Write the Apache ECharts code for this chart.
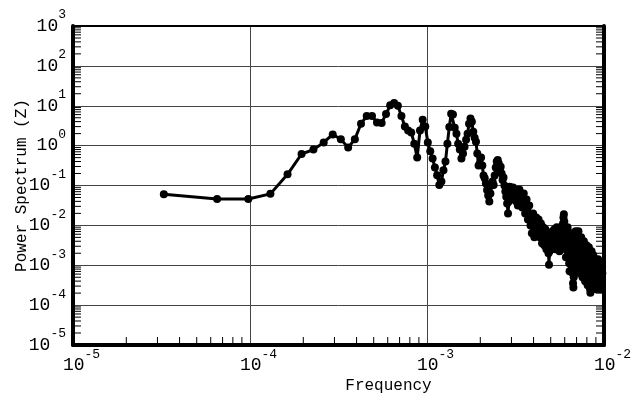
<!DOCTYPE html>
<html>
<head>
<meta charset="utf-8">
<script src="https://cdn.jsdelivr.net/npm/echarts@6/dist/echarts.min.js"></script>
<style>html,body{margin:0;padding:0;background:#fff}#c{width:635px;height:400px}</style>
</head>
<body>
<div id="c"></div>
<script>
// Frequency spacing of the spectrum (point k is at k * freqStep)
const freqStep = 3.26e-5;
// log10 of Power Spectrum (Z), points k = 1 .. 300
const powerLog10 = [
  -1.22,-1.34,-1.34,-1.21,-0.72,-0.21,-0.10,0.08,0.28,0.16,
  -0.05,0.16,0.55,0.74,0.74,0.58,0.57,0.79,1.01,1.07,
  1.00,0.74,0.48,0.38,0.33,0.05,-0.30,0.38,0.65,0.48,
  0.08,-0.14,-0.32,-0.55,-0.74,-0.99,-0.90,-0.62,-0.40,0.05,
  0.47,0.80,0.78,0.45,0.30,0.05,-0.10,-0.32,-0.20,-0.03,
  0.15,0.30,0.55,0.68,0.60,0.35,0.20,0.10,-0.20,-0.50,
  -0.45,-0.30,-0.50,-0.75,-0.82,-0.95,-1.11,-1.25,-1.40,-1.20,
  -1.00,-0.90,-0.99,-0.75,-0.55,-0.40,-0.36,-0.45,-0.60,-0.53,
  -0.70,-0.86,-0.80,-1.00,-1.15,-1.28,-1.45,-1.70,-1.40,-1.03,
  -1.20,-1.11,-1.30,-1.05,-1.20,-1.35,-1.15,-1.40,-1.25,-1.50,
  -1.30,-1.10,-1.25,-1.45,-1.30,-1.55,-1.40,-1.20,-1.50,-1.70,
  -1.55,-1.35,-1.60,-1.85,-1.70,-1.50,-1.75,-2.00,-1.80,-2.20,
  -1.95,-1.70,-1.90,-2.30,-2.05,-1.95,-1.80,-2.05,-2.25,-2.00,
  -1.85,-2.10,-2.30,-2.15,-1.95,-2.20,-2.45,-2.25,-2.05,-2.30,
  -2.50,-2.30,-2.10,-2.35,-2.60,-2.40,-2.20,-2.45,-2.70,-2.99,
  -2.65,-2.40,-2.20,-2.40,-2.60,-2.35,-2.15,-2.40,-2.55,-2.30,
  -2.10,-2.35,-2.60,-2.45,-2.25,-2.05,-2.30,-2.50,-2.35,-2.15,
  -2.40,-2.65,-2.45,-2.25,-2.05,-2.30,-2.50,-2.30,-2.10,-1.95,
  -1.80,-1.72,-1.90,-2.15,-2.40,-2.60,-2.80,-2.55,-2.30,-2.10,
  -2.05,-2.30,-2.55,-2.75,-2.95,-3.15,-2.90,-2.65,-2.40,-2.20,
  -2.45,-2.70,-2.95,-3.20,-3.45,-3.56,-3.30,-3.05,-2.80,-2.55,
  -2.35,-2.15,-2.40,-2.65,-2.90,-3.10,-2.85,-2.60,-2.35,-2.15,
  -2.40,-2.65,-2.95,-3.20,-3.00,-2.75,-2.50,-2.30,-2.55,-2.80,
  -3.05,-3.30,-3.10,-2.85,-2.60,-2.40,-2.65,-2.90,-3.15,-3.40,
  -3.20,-2.95,-2.70,-2.50,-2.75,-3.00,-3.25,-3.50,-3.30,-3.05,
  -2.80,-2.55,-2.80,-3.05,-3.30,-3.60,-3.69,-3.40,-3.15,-2.90,
  -2.65,-2.90,-3.15,-3.40,-3.20,-2.95,-2.75,-3.00,-3.25,-3.50,
  -3.30,-3.05,-2.85,-3.10,-3.35,-3.60,-3.40,-3.15,-2.95,-3.20,
  -3.45,-3.25,-3.00,-2.85,-3.10,-3.35,-3.55,-3.30,-3.05,-2.90,
  -3.15,-3.40,-3.60,-3.35,-3.10,-3.25,-3.50,-3.30,-3.05,-3.20
];
// Axis ranges (decade exponents)
const xDecades = [-5, -4, -3, -2];
const yDecades = [-5, -4, -3, -2, -1, 0, 1, 2, 3];
const xTitle = 'Frequency';
const yTitle = 'Power Spectrum (Z)';

const seriesData = powerLog10.map((e, i) => [(i + 1) * freqStep, Math.pow(10, e)]);

const minorMult = [2, 3, 4, 5, 6, 7, 8, 9];
const xMinor = [];
for (let d = xDecades[0]; d < xDecades[xDecades.length - 1]; d++) minorMult.forEach(m => xMinor.push([m * Math.pow(10, d), 1e-5]));
const yMinor = [];
for (let d = yDecades[0]; d < yDecades[yDecades.length - 1]; d++) minorMult.forEach(m => yMinor.push([1e-5, m * Math.pow(10, d)]));

const mono = 'Liberation Mono';
function powLabel(v) {
  const e = Math.round(Math.log10(v));
  return '{b|10}{e|' + e + '}';
}
const labelRich = {
  b: { fontFamily: mono, fontSize: 18, color: '#000' },
  e: { fontFamily: mono, fontSize: 13, color: '#000', padding: [0, 0, 22, 0] }
};

const chart = echarts.init(document.getElementById('c'), null, { renderer: 'canvas' });
const tickLen = 8;
chart.setOption({
  animation: false,
  backgroundColor: '#fff',
  grid: { left: 73, right: 31, top: 26, bottom: 55, containLabel: false, outerBoundsMode: 'none' },
  xAxis: [{
    type: 'log', logBase: 10,
    min: Math.pow(10, xDecades[0]), max: Math.pow(10, xDecades[xDecades.length - 1]),
    interval: 1,
    name: xTitle, nameLocation: 'middle', nameGap: 33, nameMoveOverlap: false,
    nameTextStyle: { fontFamily: mono, fontSize: 16, color: '#000', padding: [0, 0, 0, 100] },
    axisLine: { show: true, lineStyle: { color: '#000', width: 4 } },
    axisTick: { show: false },
    splitLine: { show: true, lineStyle: { color: '#444', width: 1 } },
    axisLabel: { formatter: powLabel, rich: labelRich, margin: 3, padding: [0, 0, 0, 17], showMinLabel: true, showMaxLabel: true }
  }, {
    type: 'value', position: 'top', min: 0, max: 1,
    axisLine: { show: true, onZero: false, lineStyle: { color: '#000', width: 2 } },
    axisTick: { show: false }, axisLabel: { show: false }, splitLine: { show: false }
  }],
  yAxis: [{
    type: 'log', logBase: 10,
    min: Math.pow(10, yDecades[0]), max: Math.pow(10, yDecades[yDecades.length - 1]),
    interval: 1,
    name: yTitle, nameLocation: 'middle', nameGap: 43, nameMoveOverlap: false,
    nameTextStyle: { fontFamily: mono, fontSize: 16, color: '#000' },
    axisLine: { show: true, lineStyle: { color: '#000', width: 4 } },
    axisTick: { show: false },
    splitLine: { show: true, lineStyle: { color: '#444', width: 1 } },
    axisLabel: { formatter: powLabel, rich: labelRich, margin: 7, showMinLabel: true, showMaxLabel: true }
  }, {
    type: 'value', position: 'right', min: 0, max: 1,
    axisLine: { show: true, onZero: false, lineStyle: { color: '#000', width: 4 } },
    axisTick: { show: false }, axisLabel: { show: false }, splitLine: { show: false }
  }],
  series: [
    {
      type: 'custom', xAxisIndex: 0, yAxisIndex: 0, silent: true, clip: false,
      data: xMinor,
      renderItem: function (params, api) {
        const p = api.coord([api.value(0), api.value(1)]);
        const cs = params.coordSys;
        const yb = cs.y + cs.height;
        return { type: 'line', shape: { x1: p[0], y1: yb, x2: p[0], y2: yb - tickLen }, style: { stroke: '#000', lineWidth: 1 } };
      }
    },
    {
      type: 'custom', xAxisIndex: 0, yAxisIndex: 0, silent: true, clip: false,
      data: yMinor,
      renderItem: function (params, api) {
        const p = api.coord([api.value(0), api.value(1)]);
        const cs = params.coordSys;
        const xl = cs.x, xr = cs.x + cs.width;
        return { type: 'group', children: [
          { type: 'line', shape: { x1: xl, y1: p[1], x2: xl + tickLen, y2: p[1] }, style: { stroke: '#000', lineWidth: 1 } },
          { type: 'line', shape: { x1: xr, y1: p[1], x2: xr - tickLen, y2: p[1] }, style: { stroke: '#000', lineWidth: 1 } }
        ] };
      }
    },
    {
      type: 'line', xAxisIndex: 0, yAxisIndex: 0,
      data: seriesData,
      symbol: 'circle', symbolSize: 8, showSymbol: true,
      itemStyle: { color: '#000' },
      lineStyle: { color: '#000', width: 3 },
      z: 5
    }
  ]
});
</script>
</body>
</html>
